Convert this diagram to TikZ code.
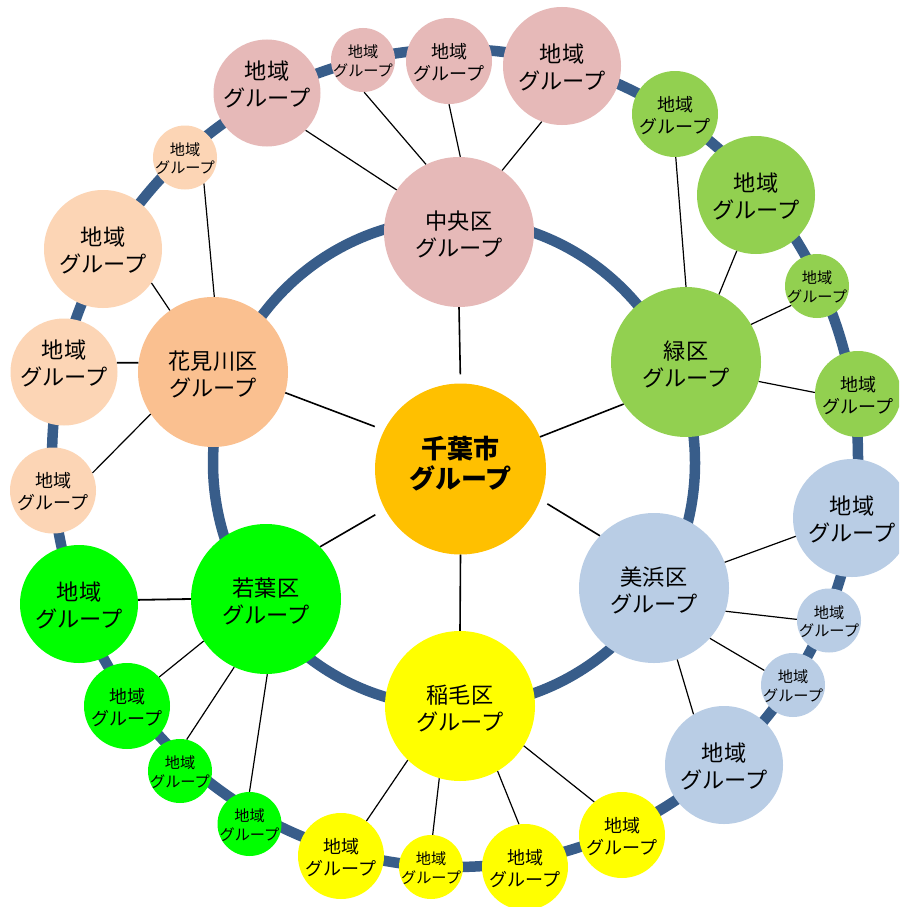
\documentclass[tikz,border=0pt]{standalone}
\usepackage{fontspec}
\setmainfont{Noto Sans CJK JP}
\definecolor{ringblue}{RGB}{56,93,138}
\definecolor{pinkc}{HTML}{E6B9B8}
\definecolor{peachD}{HTML}{FAC090}
\definecolor{peachL}{HTML}{FCD5B5}
\definecolor{limec}{HTML}{92D050}
\definecolor{blueL}{HTML}{B9CDE5}
\definecolor{yellowc}{HTML}{FFFF00}
\definecolor{greenc}{HTML}{00FF00}
\definecolor{orangec}{HTML}{FFC000}
\tikzset{
  ring/.style={draw=ringblue, line width=10.5pt},
  conn/.style={draw=black, line width=1.2pt},
  hub/.style={draw=black, line width=1.6pt},
  conthick/.style={draw=black, line width=1.8pt},
  loc/.style={circle, inner sep=0pt},
  lblW/.style={align=center, inner sep=0pt, yshift=-2.5pt, font=\fontsize{22.2}{27.5}\selectfont},
  lblL/.style={align=center, inner sep=0pt, yshift=-1.5pt, font=\fontsize{22.2}{27}\selectfont},
  lblM/.style={align=center, inner sep=0pt, yshift=-1.5pt, font=\fontsize{18}{22}\selectfont},
  lblS/.style={align=center, inner sep=0pt, yshift=-1pt, font=\fontsize{15.2}{18.3}\selectfont},
  ward/.style={loc, minimum size=150pt, label={[lblW]center:#1}},
  bigc/.style={loc, minimum size=118pt, label={[lblL]center:地域\\グループ}},
  bigd/.style={loc, minimum size=107pt, label={[lblL, yshift=10pt]center:地域\\グループ}},
  midc/.style={loc, minimum size=86pt, label={[lblM]center:地域\\グループ}},
  smallc/.style={loc, minimum size=64pt, label={[lblS]center:地域\\グループ}}
}
\begin{document}
\begin{tikzpicture}[x=1pt,y=-1pt]
\useasboundingbox (0,0) rectangle (899,907);
\clip (0,0) rectangle (899,907);
\fill[white] (0,0) rectangle (899,907);

% rings
\draw[ring] (455,458) ellipse [x radius=403pt, y radius=409pt];
\draw[ring] (454,463) ellipse [x radius=241pt, y radius=244pt];

% centre
\node[loc, minimum size=171pt, fill=orangec,
  label={[align=center, inner sep=0pt, yshift=5pt, font=\bfseries\fontsize{26}{30}\selectfont]center:千葉市\\グループ}] (c) at (460.5,469) {};

% wards
\node[ward={中央区\\グループ}, fill=pinkc]   (w1) at (459,232) {};
\node[ward={緑区\\グループ}, fill=limec]     (w2) at (686,362) {};
\node[ward={美浜区\\グループ}, fill=blueL]   (w3) at (654,588) {};
\node[ward={稲毛区\\グループ}, fill=yellowc] (w4) at (460,706) {};
\node[ward={若葉区\\グループ}, fill=greenc]  (w5) at (266,599) {};
\node[ward={花見川区\\グループ}, fill=peachD] (w6) at (213,372) {};

% local groups: 中央区
\node[bigd, fill=pinkc]   (p1) at (267,93) {};
\node[smallc, fill=pinkc] (p2) at (363,60) {};
\node[midc, fill=pinkc]   (p3) at (449,61) {};
\node[bigc, fill=pinkc]   (p4) at (562,66) {};
% 緑区
\node[midc, fill=limec]   (g1) at (675,114) {};
\node[bigc, fill=limec]   (g2) at (756,195) {};
\node[smallc, fill=limec] (g3) at (817,286) {};
\node[midc, fill=limec]   (g4) at (858,394) {};
% 美浜区
\node[bigc, fill=blueL]   (b1) at (852,518) {};
\node[smallc, fill=blueL] (b2) at (829,620.5) {};
\node[smallc, fill=blueL] (b3) at (793,685) {};
\node[bigc, fill=blueL]   (b4) at (724,765) {};
% 稲毛区
\node[midc, fill=yellowc]   (y1) at (622,835) {};
\node[midc, fill=yellowc]   (y2) at (525,867) {};
\node[smallc, fill=yellowc] (y3) at (431,867) {};
\node[midc, fill=yellowc]   (y4) at (341,856) {};
% 若葉区
\node[bigc, fill=greenc]   (l1) at (79,604) {};
\node[midc, fill=greenc]   (l2) at (127,706) {};
\node[smallc, fill=greenc] (l3) at (180,771) {};
\node[smallc, fill=greenc] (l4) at (249.5,824) {};
% 花見川区
\node[smallc, fill=peachL] (h1) at (185,157.5) {};
\node[bigc, fill=peachL]   (h2) at (103,249) {};
\node[bigd, fill=peachL]   (h3) at (64,372) {};
\node[midc, fill=peachL]   (h4) at (53,490.5) {};

% hub connectors
\draw[hub, shorten <=9pt]  (c.90) -- (w1.-90);
\draw[hub]                 (c.22.5) -- (w2.-146.5);
\draw[hub, shorten <=8pt]  (c.-21.3) -- (w3.136);
\draw[hub]                 (c.-90) -- (w4.90);
\draw[hub, shorten <=11pt] (c.-152.6) -- (w5.44.6);
\draw[hub, shorten <=10pt] (c.153.3) -- (w6.-16.3);

% ward connectors
\draw[conn] (w1.146) -- (p1.-44.3);
\draw[conn] (w1.116) -- (p2.-88);
\draw[conn] (w1.89) -- (p3.-90);
\draw[conn] (w1.55) -- (p4.-110);

\draw[conn] (w2.90) -- (g1.-89);
\draw[conn] (w2.64) -- (g2.-109);
\draw[conn] (w2.30) -- (g3.-143);
\draw[conn] (w2.-15.6) -- (g4.178);

\draw[conn] (w3.20) -- (b1.-162);
\draw[conn] (w3.-18) -- (b2.178);
\draw[conn] (w3.-42) -- (b3.153);
\draw[conn] (w3.-72) -- (b4.121);

\draw[conn] (w4.-134.6) -- (y4.54.7);
\draw[conn] (w4.-106) -- (y3.87);
\draw[conn] (w4.-60.4) -- (y2.98);
\draw[conn] (w4.-32.5) -- (y1.130);

\draw[conthick] (w5.180) -- (l1.4.8);
\draw[conn] (w5.-146.5) -- (l2.42);
\draw[conn] (w5.-115) -- (l3.78);
\draw[conn] (w5.-89) -- (l4.90);

\draw[conn] (w6.89) -- (h1.-54);
\draw[conn] (w6.125) -- (h2.-35);
\draw[conthick] (w6.173) -- (h3.10);
\draw[conn] (w6.-146) -- (h4.24);
\end{tikzpicture}
\end{document}
